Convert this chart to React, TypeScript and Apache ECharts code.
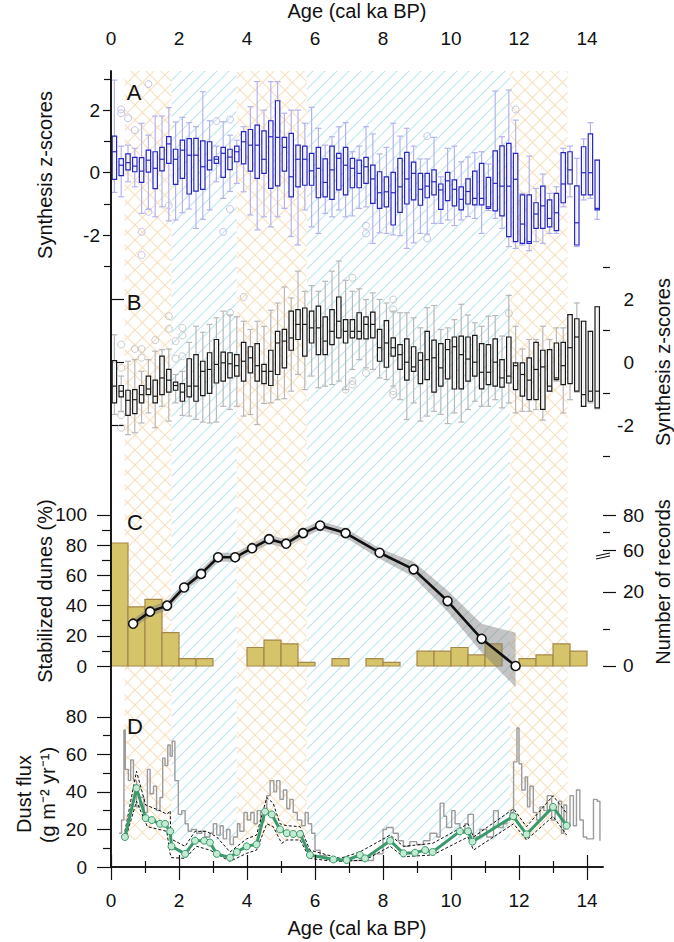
import React, { useEffect, useRef } from 'react';
import * as echarts from 'echarts';

// ---------------- DATA ----------------
const AGE_MAX = 14.47;

// hatched climate intervals (ka): kind 1 = orange cross-hatch, 0 = blue diagonal
const HATCH_START = [0.4, 1.78, 3.7, 5.76, 11.74];
const HATCH_END = [1.78, 3.7, 5.76, 11.74, 13.43];
const HATCH_KIND = [1, 0, 1, 0, 1];

// box-plot bins, 0.2 ka
const BOX_AGES = Array.from({ length: 72 }, (_, i) => Math.round((0.1 + 0.2 * i) * 10) / 10);

// Panel A boxes [min, q1, median, q3, max]
const A_BOXES = [
  [-0.63, -0.21, 0.67, 1.17, 2.96], [-0.77, -0.09, 0.24, 0.45, 0.85], [-0.29, 0.09, 0.32, 0.6, 0.88],
  [-0.45, 0.03, 0.21, 0.49, 0.78], [-1.3, -0.31, 0.05, 0.48, 1.58], [-1.17, 0.02, 0.4, 0.72, 1.2],
  [-1.41, -0.51, 0.14, 0.67, 1.81], [-1.09, 0.06, 0.43, 0.81, 1.81], [-1.54, 0.3, 0.92, 1.15, 2.08],
  [-1.51, -0.37, 0.43, 0.75, 1.62], [-1.28, -0.18, 0.72, 1.04, 1.77], [-1.16, -0.68, 0.56, 1.09, 1.6],
  [-1.78, -0.59, 0.56, 1.1, 1.47], [-1.49, -0.53, 0.19, 1.02, 2.59], [-1.19, 0.09, 0.4, 0.99, 1.66],
  [-0.29, 0.3, 0.43, 0.51, 0.85], [-0.82, -0.15, 0.62, 0.81, 1.63], [-0.6, 0.1, 0.5, 0.75, 1.2],
  [-0.34, 0.35, 0.67, 0.85, 1.04], [-0.61, 0.28, 0.99, 1.31, 1.47], [-1.35, 0.05, 0.88, 1.38, 2.11],
  [-1.83, -0.18, 0.88, 1.52, 2.91], [-1.41, -0.02, 0.43, 1.34, 2.0], [-1.73, -0.5, 1.15, 1.66, 2.91],
  [-1.41, -0.42, 1.13, 2.3, 2.91], [-1.14, 0.05, 0.81, 1.13, 1.9], [-2.04, -0.77, -0.13, 1.26, 2.0],
  [-2.31, -0.45, 0.43, 0.88, 2.0], [-1.19, -0.4, 0.43, 0.85, 1.58], [-1.73, -0.4, 0.06, 0.62, 2.09],
  [-1.94, -0.8, 0.14, 0.81, 1.42], [-1.3, -0.77, -0.31, 0.44, 0.88], [-1.41, -0.85, 0.09, 0.85, 1.15],
  [-1.19, -0.55, 0.46, 0.62, 1.47], [-1.41, -0.71, 0.24, 0.81, 1.6], [-1.38, -0.48, 0.14, 0.46, 0.67],
  [-1.14, -0.48, -0.02, 0.4, 0.85], [-1.09, -0.34, 0.19, 0.49, 1.47], [-2.26, -0.98, -0.2, 0.24, 1.24],
  [-1.92, -1.14, -0.64, 0.03, 0.6], [-1.94, -1.09, -0.61, -0.13, 0.81], [-1.99, -1.67, -0.64, 0.01, 1.58],
  [-2.01, -1.27, -0.45, 0.46, 1.17], [-2.42, -1.0, -0.2, 0.65, 1.42], [-2.24, -0.87, -0.02, 0.34, 0.85],
  [-1.94, -1.04, -0.53, -0.02, 0.44], [-1.96, -0.8, -0.43, -0.02, 0.44], [-1.62, -0.71, -0.29, 0.09, 1.13],
  [-1.62, -1.17, -0.55, -0.36, -0.13], [-1.51, -0.89, -0.26, 0.01, 0.78], [-1.69, -1.06, -0.53, -0.23, 0.85],
  [-1.51, -1.19, -0.85, -0.45, 0.35], [-1.4, -1.0, -0.6, -0.2, 0.5], [-1.46, -1.03, -0.82, 0.05, 0.64],
  [-1.94, -1.03, -0.82, 0.3, 0.67], [-1.21, -1.14, -1.09, -0.15, 0.28], [-1.46, -1.22, -0.34, 0.7, 2.61],
  [-1.78, -1.38, -0.43, 0.86, 1.15], [-2.36, -2.04, -0.43, 0.94, 2.64], [-2.42, -2.2, -0.21, 0.62, 1.68],
  [-2.31, -2.26, -1.64, -0.71, -0.66], [-2.49, -2.26, -2.2, -0.71, 0.53], [-2.2, -1.78, -1.32, -0.96, -0.5],
  [-2.26, -1.78, -1.06, -0.43, -0.04], [-1.94, -1.73, -1.46, -0.87, -0.66], [-1.94, -1.85, -1.28, -0.66, -0.45],
  [-1.09, -0.96, -0.36, 0.64, 0.78], [-0.77, -0.36, 0.09, 0.67, 0.85], [-2.36, -2.31, -1.6, -0.42, 0.46],
  [-0.87, -0.71, 0.0, 0.83, 1.08], [-0.82, -0.71, 0.0, 1.24, 1.6], [-1.49, -1.19, -1.14, 0.4, 0.4],
];
const A_OUTLIERS = [
  [0.3, 2.02], [0.3, 1.9], [0.5, 1.74], [0.7, 1.36], [0.9, -1.89], [0.9, -2.63], [1.1, 2.83],
  [1.1, -1.25], [1.7, -1.05], [3.1, 1.65], [3.5, 1.7], [3.5, -1.16], [3.3, -1.89], [7.5, -1.69],
  [7.5, -1.94], [9.3, 1.17], [9.3, -2.1], [11.9, 2.02],
];

// Panel B boxes [min, q1, median, q3, max]
const B_BOXES = [
  [-1.66, -1.29, -0.76, 0.05, 0.87], [-1.56, -1.1, -0.92, -0.74, -0.44], [-2.3, -1.69, -1.21, -0.89, 0.03],
  [-2.24, -1.63, -1.19, -0.87, 0.08], [-1.93, -1.29, -1.03, -0.74, -0.29], [-1.61, -1.03, -0.85, -0.44, 0.08],
  [-2.08, -1.29, -1.08, -0.57, 0.35], [-1.4, -1.03, -0.5, 0.19, 0.4], [-1.87, -0.95, -0.57, -0.23, 0.42],
  [-1.29, -0.89, -0.74, -0.63, -0.39], [-1.69, -1.24, -0.95, -0.68, -0.29], [-1.71, -1.1, -0.76, 0.11, 0.63],
  [-1.82, -1.24, -0.76, 0.24, 1.14], [-1.9, -1.06, -0.29, 0.03, 0.95], [-1.93, -0.99, -0.23, 0.3, 1.2],
  [-1.9, -0.66, -0.07, 0.72, 1.41], [-1.4, -0.6, -0.02, 0.32, 1.62], [-1.5, -0.5, -0.05, 0.3, 1.5],
  [-1.4, -0.44, -0.11, 0.24, 1.44], [-1.71, -0.6, 0.03, 0.63, 1.3], [-1.66, -0.34, 0.14, 0.49, 1.04],
  [-1.98, -0.6, -0.11, 0.59, 1.3], [-1.31, -0.68, -0.29, -0.07, 1.14], [-1.29, -0.74, -0.29, 0.38, 1.65],
  [-1.19, -0.39, 0.61, 0.98, 1.88], [-1.16, -0.18, 0.67, 1.04, 2.39], [-0.92, 0.38, 0.77, 1.62, 2.04],
  [-0.39, 0.72, 1.2, 1.67, 2.89], [-0.87, 0.19, 1.2, 1.72, 2.25], [-0.44, 0.61, 1.09, 1.62, 2.43],
  [-0.81, 0.24, 1.09, 1.78, 2.25], [-0.76, 0.24, 0.67, 1.44, 2.57], [-0.71, 0.56, 0.98, 1.67, 2.89],
  [-0.6, 0.77, 1.3, 2.07, 3.21], [-0.87, 0.61, 0.98, 1.35, 2.6], [-0.23, 0.77, 0.98, 1.35, 2.25],
  [0.08, 0.74, 0.98, 1.57, 2.33], [-0.18, 0.74, 1.2, 1.44, 1.99], [-0.23, 0.77, 1.2, 1.59, 2.2],
  [-0.5, 0.03, 0.46, 1.04, 1.99], [-0.55, -0.16, 0.61, 1.32, 1.88], [-0.76, 0.19, 0.46, 0.77, 1.62],
  [-1.19, -0.23, 0.24, 0.56, 1.57], [-1.82, -0.57, 0.0, 0.74, 1.57], [-1.29, -0.29, -0.15, 0.49, 1.41],
  [-1.87, -0.68, 0.06, 0.3, 1.09], [-1.71, -0.55, 0.08, 0.98, 1.73], [-1.56, -0.95, 0.14, 0.7, 1.8],
  [-1.66, -0.76, -0.18, 0.59, 1.04], [-1.95, -0.53, 0.4, 0.72, 1.09], [-1.61, -0.85, 0.49, 0.8, 1.35],
  [-1.9, -0.85, 0.24, 0.83, 1.84], [-1.5, -0.6, 0.1, 0.8, 1.5], [-1.24, -0.44, 0.0, 0.85, 1.25],
  [-1.4, -0.85, -0.32, 0.59, 1.14], [-1.4, -0.71, -0.32, 0.56, 1.46], [-1.19, -0.76, 0.0, 0.74, 1.48],
  [-1.45, -0.79, -0.5, 0.08, 0.83], [-1.29, -0.66, -0.44, 0.8, 2.12], [-1.61, -0.87, -0.11, -0.02, 1.14],
  [-1.56, -1.08, -0.39, -0.02, 0.42], [-1.56, -1.19, -0.57, 0.14, 0.72], [-1.5, -1.19, -0.23, 0.63, 0.72],
  [-1.84, -1.5, -0.15, 0.38, 1.14], [-0.92, -0.92, -0.76, 0.4, 0.72], [-0.6, -0.55, -0.5, 0.61, 1.09],
  [-1.61, -0.71, -0.11, 0.63, 1.09], [-1.19, -0.68, 0.46, 1.51, 1.51], [-0.95, -0.92, 0.8, 1.38, 1.88],
  [-1.4, -1.4, -1.03, 1.3, 1.3], [-1.29, -1.24, -0.92, 0.98, 0.98], [-1.48, -1.45, -0.92, 1.76, 1.76],
];
const B_OUTLIERS = [
  [0.3, 0.56], [0.3, -0.18], [0.3, -1.68], [0.3, -2.08], [0.7, 0.42], [0.9, 0.42], [0.9, 0.14],
  [1.3, 0.7], [1.7, 1.46], [1.7, 1.06], [1.9, 0.67], [1.9, 0.11], [2.1, 1.09], [2.1, 0.85], [2.1, 0.19],
  [3.5, 1.57], [3.9, 2.07], [6.9, -0.87], [7.1, 2.68], [7.1, -0.71], [7.1, -0.6], [7.5, -0.34],
  [8.3, 1.99], [8.3, 1.67], [8.3, -0.92], [8.3, -1.03], [11.7, 1.55],
];

// Panel C: stabilized dunes (%)
const DUNE_AGES = [0.65, 1.15, 1.65, 2.15, 2.65, 3.15, 3.65, 4.15, 4.65, 5.15, 5.65, 6.15, 6.9, 7.9, 8.9, 9.9, 10.9, 11.9];
const DUNE_PCT = [28, 36, 40, 52, 61, 72, 72, 78, 84, 81, 88, 93, 88, 75, 64, 43, 18, 0];
const DUNE_UPPER = [31, 39, 43, 55, 64, 75, 75, 81, 87, 84, 91, 96, 91, 78, 69, 50, 28, 22];
const DUNE_LOWER = [25, 33, 37, 49, 58, 69, 69, 75, 81, 78, 85, 90, 85, 71, 59, 36, 9, -14];

// Panel C: number of records per 0.5 ka bin
const RECORD_BIN_START = [0, 0.5, 1, 1.5, 2, 2.5, 3, 3.5, 4, 4.5, 5, 5.5, 6, 6.5, 7, 7.5, 8, 8.5, 9, 9.5, 10, 10.5, 11, 11.5, 12, 12.5, 13, 13.5];
const RECORD_COUNTS = [64, 16, 18, 9, 2, 2, 0, 0, 5, 7, 6, 1, 0, 2, 0, 2, 1, 0, 4, 4, 5, 3, 6, 0, 2, 3, 6, 4];
const RECORD_TICKS = [0, 20, 60, 80];
const RECORD_MINOR = [10, 70];

// Panel D: dust flux
const DUST_RAW_AGES = [
  0.24, 0.31, 0.38, 0.42, 0.51, 0.58, 0.66, 0.75, 0.85, 0.97, 1.07, 1.15, 1.25, 1.34, 1.44, 1.52, 1.59, 1.67, 1.74, 1.8,
  1.88, 1.98, 2.08, 2.18, 2.27, 2.37, 2.52, 2.67, 2.76, 2.91, 3.01, 3.11, 3.21, 3.3, 3.4, 3.5, 3.6, 3.72, 3.79, 3.91,
  4.01, 4.11, 4.21, 4.3, 4.4, 4.5, 4.58, 4.68, 4.79, 4.87, 4.97, 5.07, 5.17, 5.26, 5.36, 5.48, 5.61, 5.71, 5.8, 5.9,
  6.0, 6.15, 6.34, 6.74, 7.23, 7.72, 8.0, 8.1, 8.3, 8.45, 8.6, 8.79, 8.99, 9.19, 9.38, 9.58, 9.68, 9.79, 9.87, 10.02,
  10.12, 10.26, 10.41, 10.5, 10.66, 10.85, 11.05, 11.25, 11.39, 11.54, 11.64, 11.74, 11.84, 11.94, 12.0, 12.08, 12.18,
  12.25, 12.32, 12.42, 12.52, 12.62, 12.73, 12.83, 12.96, 13.06, 13.16, 13.25, 13.32, 13.4, 13.5, 13.6, 13.69, 13.79,
  13.89, 13.99, 14.19, 14.3, 14.38,
];
const DUST_RAW = [
  18, 25, 73, 52, 46, 57, 46, 32, 37, 29, 52, 39, 43, 30, 37, 58, 54, 65, 59, 67,
  46, 28, 30, 23, 19, 20, 18, 19, 16, 18, 23, 17, 22, 15, 20, 12, 16, 23, 19, 29,
  25, 29, 23, 30, 24, 29, 38, 46, 40, 46, 36, 41, 31, 36, 29, 25, 22, 29, 23, 18,
  9, 6, 4, 3.5, 3.5, 7, 20, 21, 18, 14, 11, 13.5, 12, 14, 18, 16, 34, 27, 21, 30,
  23, 18, 23, 28, 16, 20, 16, 30, 21, 23, 25, 29, 56, 74, 55, 41, 48,
  32, 43, 29, 25, 32, 30, 38, 25, 29, 35, 18, 33, 22, 38, 22, 41, 25,
  16, 15, 36, 35, 14,
];
const DUST_MEAN_AGES = [
  0.41, 0.75, 1.02, 1.2, 1.44, 1.59, 1.74, 1.78, 2.18, 2.47, 2.74, 2.91, 3.11, 3.5, 3.7, 3.99, 4.28, 4.53, 4.73, 4.97,
  5.17, 5.36, 5.56, 5.85, 6.54, 6.93, 7.32, 7.47, 8.21, 8.6, 8.94, 9.24, 9.46, 10.26, 10.5, 10.63, 11.83, 12.22, 13.0, 13.4,
];
const DUST_MEAN = [
  16, 42, 26, 25, 23, 23, 19, 11, 7, 14, 14, 13, 7, 5, 8, 11, 12, 29.5, 28, 20,
  18, 17.6, 17.6, 6.4, 4, 3.7, 6.4, 4.6, 14, 7.3, 7.6, 9, 8, 19, 19, 13.5, 27, 17.4, 32, 22,
];
const DUST_UP_AGES = [0.41, 0.75, 1.02, 1.44, 1.65, 1.74, 1.76, 2.18, 2.47, 2.81, 3.11, 3.5, 3.99, 4.28, 4.58, 4.77, 4.97, 5.17, 5.56, 5.85, 6.54, 6.74, 7.32, 8.21, 8.6, 9.46, 10.5, 10.66, 11.84, 12.22, 13.0, 13.4];
const DUST_UP = [19, 51, 33, 30, 28, 30, 15, 11, 19, 19, 16, 8, 15, 17, 37, 34, 23, 22, 21.5, 9, 5.5, 4.6, 8, 17, 11, 12.6, 23, 16, 31, 21.5, 38, 28.6];
const DUST_LO_AGES = [0.41, 0.75, 1.07, 1.64, 1.74, 1.78, 2.18, 2.52, 2.91, 3.5, 3.99, 4.28, 4.58, 4.77, 5.02, 5.17, 5.56, 5.85, 6.54, 6.74, 7.47, 8.21, 8.6, 9.46, 10.5, 10.66, 11.84, 12.22, 13.0, 13.4];
const DUST_LO = [14, 35, 21.5, 19, 7, 5, 4.6, 11, 9, 3, 7.3, 9, 23, 21.5, 12.6, 14.4, 14.4, 4.6, 3, 3, 3.7, 11, 5.5, 6.4, 16, 9, 23, 14.4, 27, 17];

// ---------------- helpers ----------------
const FONT = '"Liberation Sans", Arial, Helvetica, sans-serif';
const INK = '#111';
const zip = (xs: number[], ys: number[]) => xs.map((x, i) => [x, ys[i]]);

// broken right axis of panel C: linear up to the break, compressed above it
const recDisplay = (v: number) => (v <= 30 ? v : 31.35 + (v - 60) * 0.473);
const recFromDisplay = (d: number) => (d <= 30 ? d : 60 + (d - 31.35) / 0.473);

function makeHatch(period: number, color: string, cross: boolean, lw: number) {
  const c = document.createElement('canvas');
  c.width = period;
  c.height = period;
  const ctx = c.getContext('2d')!;
  ctx.fillStyle = '#ffffff';
  ctx.fillRect(0, 0, period, period);
  ctx.strokeStyle = color;
  ctx.lineWidth = lw;
  const seg = (x1: number, y1: number, x2: number, y2: number) => {
    ctx.beginPath();
    ctx.moveTo(x1, y1);
    ctx.lineTo(x2, y2);
    ctx.stroke();
  };
  seg(-1, period + 1, period + 1, -1);
  seg(-2, 2, 2, -2);
  seg(period - 2, period + 2, period + 2, period - 2);
  if (cross) {
    seg(-1, -1, period + 1, period + 1);
    seg(period - 2, -2, period + 2, 2);
    seg(-2, period - 2, 2, period + 2);
  }
  return { image: c.toDataURL(), repeat: 'repeat', imageWidth: period, imageHeight: period };
}

const LEFT = 111;
const RIGHT = 71;
const gridBase = { left: LEFT, right: RIGHT, outerBoundsMode: 'none', containLabel: false };

const hiddenX = (gridIndex: number) => ({
  type: 'value', gridIndex, min: 0, max: AGE_MAX, show: false, splitLine: { show: false },
});

function yPair(
  gridIndex: number, position: string, min: number, max: number,
  major: number[], minor: number[], majorLen: number, minorLen: number, margin: number,
  formatter?: (v: number) => string, align?: string,
) {
  const base = {
    type: 'value', gridIndex, position, min, max,
    axisLine: { show: false }, splitLine: { show: false },
  };
  return [
    {
      ...base,
      axisTick: { show: true, customValues: major, length: majorLen, lineStyle: { color: INK, width: 1.2 } },
      axisLabel: {
        show: true, customValues: major, margin, fontSize: 19, color: INK, fontFamily: FONT,
        formatter: formatter || ((v: number) => String(v)), align,
      },
    },
    {
      ...base,
      axisTick: { show: true, customValues: minor, length: minorLen, lineStyle: { color: INK, width: 1.2 } },
      axisLabel: { show: false },
    },
  ];
}

function boxRenderer(boxColor: string, whiskerColor: string) {
  return (params: any, api: any) => {
    const x = api.value(0);
    const lo = api.coord([x, api.value(1)]);
    const q1 = api.coord([x, api.value(2)]);
    const md = api.coord([x, api.value(3)]);
    const q3 = api.coord([x, api.value(4)]);
    const hi = api.coord([x, api.value(5)]);
    const bw = 4.4;
    const cw = 6;
    const ws = { stroke: whiskerColor, lineWidth: 1.2 };
    return {
      type: 'group',
      children: [
        { type: 'line', shape: { x1: lo[0], y1: lo[1], x2: hi[0], y2: hi[1] }, style: ws },
        { type: 'line', shape: { x1: lo[0] - cw / 2, y1: lo[1], x2: lo[0] + cw / 2, y2: lo[1] }, style: ws },
        { type: 'line', shape: { x1: hi[0] - cw / 2, y1: hi[1], x2: hi[0] + cw / 2, y2: hi[1] }, style: ws },
        {
          type: 'rect',
          shape: { x: q3[0] - bw / 2, y: q3[1], width: bw, height: Math.max(q1[1] - q3[1], 0.5) },
          style: { fill: 'rgba(255,255,255,0.75)', stroke: boxColor, lineWidth: 1.2 },
        },
        { type: 'line', shape: { x1: md[0] - bw / 2, y1: md[1], x2: md[0] + bw / 2, y2: md[1] }, style: { stroke: boxColor, lineWidth: 1.2 } },
      ],
    };
  };
}

function buildOption() {
  const orange = makeHatch(15, '#f7e1c0', true, 1.2);
  const blue = makeHatch(12, '#bfe5ed', false, 1.2);

  // grid geometry
  const A_TOP = 71, A_H = 195.6;
  const B_TOP = 258.25, B_H = 198.45;
  const C_TOP = 460, C_H = 230;
  const D_TOP = 698, D_H = 169;
  const C_RMIN = -6.49, C_RMAX = 55.68;

  const grids = [
    { ...gridBase, top: 71, height: 796 }, // 0 frame
    { ...gridBase, top: 71, height: 769 }, // 1 hatch
    { ...gridBase, top: A_TOP, height: A_H }, // 2 A
    { ...gridBase, top: B_TOP, height: B_H }, // 3 B
    { ...gridBase, top: C_TOP, height: C_H }, // 4 C
    { ...gridBase, top: D_TOP, height: D_H }, // 5 D
  ];

  const evenAges = [0, 2, 4, 6, 8, 10, 12, 14];
  const oddAges = [1, 3, 5, 7, 9, 11, 13];
  const frameLine = { show: true, lineStyle: { color: INK, width: 1.6 } };
  const tickStyle = { color: INK, width: 1.2 };
  const nameStyle = { fontSize: 20, color: INK, fontFamily: FONT };

  const xAxis = [
    {
      type: 'value', gridIndex: 0, position: 'top', min: 0, max: AGE_MAX, z: 10,
      axisLine: frameLine, splitLine: { show: false },
      axisTick: { show: true, customValues: evenAges, length: 12, lineStyle: tickStyle },
      axisLabel: { customValues: evenAges, margin: 23, fontSize: 19, color: INK, fontFamily: FONT },
      name: 'Age (cal ka BP)', nameLocation: 'middle', nameGap: 50, nameTextStyle: nameStyle,
    },
    {
      type: 'value', gridIndex: 0, position: 'top', min: 0, max: AGE_MAX,
      axisLine: { show: false }, splitLine: { show: false },
      axisTick: { show: true, customValues: oddAges, length: 6, lineStyle: tickStyle },
      axisLabel: { show: false },
    },
    {
      type: 'value', gridIndex: 0, position: 'bottom', min: 0, max: AGE_MAX, z: 10,
      axisLine: frameLine, splitLine: { show: false },
      axisTick: { show: true, customValues: evenAges, length: 13, lineStyle: tickStyle },
      axisLabel: { customValues: evenAges, margin: 24, fontSize: 19, color: INK, fontFamily: FONT },
      name: 'Age (cal ka BP)', nameLocation: 'middle', nameGap: 51, nameTextStyle: nameStyle,
    },
    {
      type: 'value', gridIndex: 0, position: 'bottom', min: 0, max: AGE_MAX,
      axisLine: { show: false }, splitLine: { show: false },
      axisTick: { show: true, customValues: oddAges, length: 6, lineStyle: tickStyle },
      axisLabel: { show: false },
    },
    hiddenX(1), hiddenX(2), hiddenX(3), hiddenX(4), hiddenX(5),
  ];

  const frameY = (position: string) => ({
    type: 'value', gridIndex: 0, position, min: 0, max: 1, z: 10,
    axisLine: frameLine, axisTick: { show: false }, axisLabel: { show: false }, splitLine: { show: false },
  });

  const recMajor = RECORD_TICKS.map(recDisplay);
  const recMinor = RECORD_MINOR.map(recDisplay);

  const yAxis = [
    frameY('left'), // 0
    frameY('right'), // 1
    { type: 'value', gridIndex: 1, min: 0, max: 1, show: false, splitLine: { show: false } }, // 2
    ...yPair(2, 'left', -3, 3.25, [-2, 0, 2], [-3, -1, 1, 3], 8, 7, 11), // 3,4
    ...yPair(3, 'right', -3, 3.3, [-2, 0, 2], [-3, -1, 1, 3], 13, 7, 31, undefined, 'right'), // 5,6
    ...yPair(4, 'left', -15.89, 136.42, [0, 20, 40, 60, 80, 100], [10, 30, 50, 70, 90], 14, 9, 24), // 7,8
    ...yPair(4, 'right', C_RMIN, C_RMAX, recMajor, recMinor, 13, 7, 20,
      (v: number) => String(Math.round(recFromDisplay(v)))), // 9,10
    ...yPair(5, 'left', 0, 90, [0, 20, 40, 60, 80], [10, 30, 50, 70], 14, 8, 24), // 11,12
  ];

  const hatchData = HATCH_START.map((s, i) => [s, HATCH_END[i], HATCH_KIND[i]]);
  const boxA = BOX_AGES.map((x, i) => [x, ...A_BOXES[i]]);
  const boxB = BOX_AGES.map((x, i) => [x, ...B_BOXES[i]]);
  const barData = RECORD_BIN_START.map((s, i) => [s, s + 0.5, recDisplay(RECORD_COUNTS[i])]).filter((d) => d[2] > 0);

  const series: any[] = [
    {
      type: 'custom', xAxisIndex: 4, yAxisIndex: 2, z: 0, silent: true,
      data: hatchData,
      renderItem: (params: any, api: any) => {
        const s = api.coord([api.value(0), 0]);
        const e = api.coord([api.value(1), 0]);
        const cs = params.coordSys;
        return {
          type: 'rect',
          shape: { x: s[0], y: cs.y, width: e[0] - s[0], height: cs.height },
          style: { fill: api.value(2) === 1 ? orange : blue },
        };
      },
    },
    // Panel A
    {
      type: 'scatter', xAxisIndex: 5, yAxisIndex: 3, z: 1, data: A_OUTLIERS, symbol: 'circle', symbolSize: 7,
      itemStyle: { color: 'rgba(255,255,255,0)', borderColor: '#b5b5e6', borderWidth: 1 },
    },
    {
      type: 'custom', xAxisIndex: 5, yAxisIndex: 3, z: 2, data: boxA,
      encode: { x: 0, y: [1, 2, 3, 4, 5] }, renderItem: boxRenderer('#2626c0', '#b4b4ec'),
    },
    // Panel B
    {
      type: 'scatter', xAxisIndex: 6, yAxisIndex: 5, z: 1, data: B_OUTLIERS, symbol: 'circle', symbolSize: 7,
      itemStyle: { color: 'rgba(255,255,255,0)', borderColor: '#bdbdbd', borderWidth: 1 },
    },
    {
      type: 'custom', xAxisIndex: 6, yAxisIndex: 5, z: 2, data: boxB,
      encode: { x: 0, y: [1, 2, 3, 4, 5] }, renderItem: boxRenderer('#1a1a1a', '#b8b8b8'),
    },
    // Panel C bars (number of records)
    {
      type: 'custom', xAxisIndex: 7, yAxisIndex: 9, z: 2, data: barData,
      encode: { x: [0, 1], y: 2 },
      renderItem: (params: any, api: any) => {
        const p0 = api.coord([api.value(0), api.value(2)]);
        const p1 = api.coord([api.value(1), 0]);
        return {
          type: 'rect',
          shape: { x: p0[0], y: p0[1], width: p1[0] - p0[0], height: p1[1] - p0[1] },
          style: { fill: '#d6c46b', stroke: '#a5874a', lineWidth: 1.2 },
        };
      },
    },
    // Panel C confidence band
    {
      type: 'custom', xAxisIndex: 7, yAxisIndex: 7, z: 3, data: [[DUNE_AGES[0], DUNE_PCT[0]]],
      renderItem: (params: any, api: any) => {
        const pts: number[][] = [];
        DUNE_AGES.forEach((a, i) => pts.push(api.coord([a, DUNE_UPPER[i]])));
        for (let i = DUNE_AGES.length - 1; i >= 0; i--) pts.push(api.coord([DUNE_AGES[i], DUNE_LOWER[i]]));
        return { type: 'polygon', shape: { points: pts }, style: { fill: 'rgba(125,125,125,0.45)' } };
      },
    },
    {
      type: 'line', xAxisIndex: 7, yAxisIndex: 7, z: 4, data: zip(DUNE_AGES, DUNE_PCT),
      symbol: 'circle', symbolSize: 9, showSymbol: true,
      lineStyle: { color: INK, width: 2.6 },
      itemStyle: { color: '#ffffff', borderColor: INK, borderWidth: 1.6 },
    },
    // Panel D
    {
      type: 'line', xAxisIndex: 8, yAxisIndex: 11, z: 2, data: zip(DUST_RAW_AGES, DUST_RAW),
      step: 'end', symbol: 'none', lineStyle: { color: '#9b9b9b', width: 1.4 },
    },
    {
      type: 'line', xAxisIndex: 8, yAxisIndex: 11, z: 3, data: zip(DUST_UP_AGES, DUST_UP),
      symbol: 'none', lineStyle: { color: INK, width: 1, type: [3, 2] },
    },
    {
      type: 'line', xAxisIndex: 8, yAxisIndex: 11, z: 3, data: zip(DUST_LO_AGES, DUST_LO),
      symbol: 'none', lineStyle: { color: INK, width: 1, type: [3, 2] },
    },
    {
      type: 'line', xAxisIndex: 8, yAxisIndex: 11, z: 4, data: zip(DUST_MEAN_AGES, DUST_MEAN),
      symbol: 'circle', symbolSize: 7, showSymbol: true,
      lineStyle: { color: '#3a9a6c', width: 3 },
      itemStyle: { color: '#c3ead2', borderColor: '#3a9a6c', borderWidth: 1 },
    },
  ];

  const txt = (text: string, x: number, y: number, size: number, rot = 0) => ({
    type: 'text', x, y, rotation: rot, z: 20, silent: true,
    style: { text, fontSize: size, fontFamily: FONT, fill: INK, align: 'center', verticalAlign: 'middle' },
  });
  const R90 = Math.PI / 2;

  // break mark on the right axis of panel C
  const breakY = C_TOP + (C_H * (C_RMAX - 30)) / (C_RMAX - C_RMIN);
  const axisX = 674 - RIGHT;

  const graphic = [
    txt('A', 134, 92, 22),
    txt('B', 134, 302, 22),
    txt('C', 135, 522, 22),
    txt('D', 135, 726, 22),
    txt('Synthesis z-scores', 45, 175, 20, R90),
    txt('Synthesis z-scores', 663, 362, 20, R90),
    txt('Stabilized dunes (%)', 45, 591, 20, R90),
    txt('Number of records', 663, 582, 20, R90),
    txt('Dust flux', 24, 794, 20, R90),
    txt('(g m⁻² yr⁻¹)', 48, 795, 20, R90),
    {
      type: 'line', z: 21, silent: true,
      shape: { x1: axisX - 7, y1: breakY + 1, x2: axisX + 7, y2: breakY - 2 },
      style: { stroke: INK, lineWidth: 1.2 },
    },
    {
      type: 'line', z: 21, silent: true,
      shape: { x1: axisX - 7, y1: breakY + 4, x2: axisX + 7, y2: breakY + 1 },
      style: { stroke: INK, lineWidth: 1.2 },
    },
  ];

  return {
    animation: false,
    backgroundColor: '#ffffff',
    textStyle: { fontFamily: FONT },
    grid: grids,
    xAxis,
    yAxis,
    series,
    graphic,
  };
}

export default function App() {
  const ref = useRef<HTMLDivElement>(null);
  useEffect(() => {
    const el = ref.current;
    if (!el) return;
    const chart = echarts.init(el, null, { renderer: 'svg' });
    chart.setOption(buildOption() as any);
    return () => chart.dispose();
  }, []);
  return (
    <div
      ref={ref}
      style={{ position: 'absolute', left: 0, top: 0, width: 674, height: 942, background: '#fff' }}
    />
  );
}
